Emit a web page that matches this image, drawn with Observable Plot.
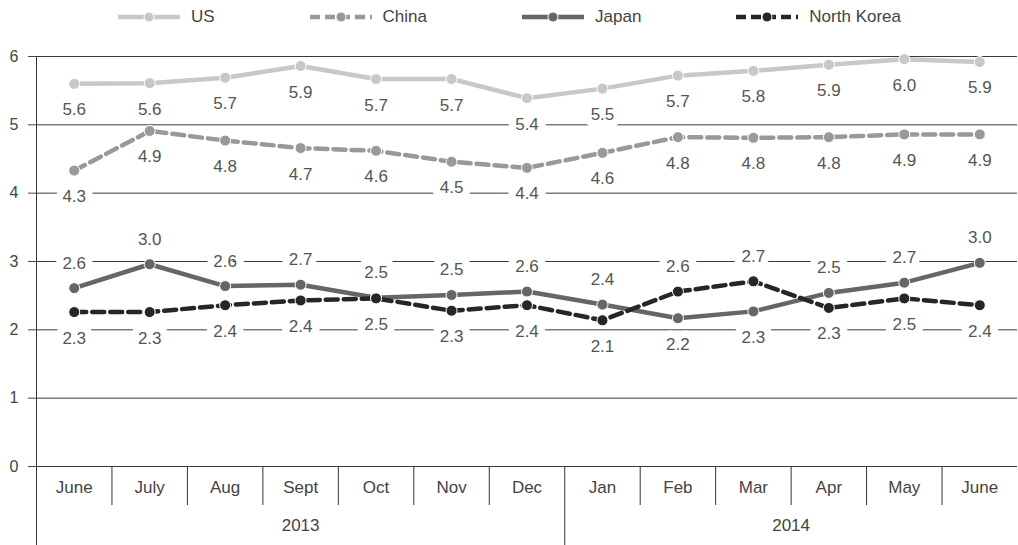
<!DOCTYPE html>
<html>
<head>
<meta charset="utf-8">
<script src="https://cdn.jsdelivr.net/npm/d3@7"></script>
<script src="https://cdn.jsdelivr.net/npm/@observablehq/plot@0.6"></script>
<style>
  html, body { margin: 0; padding: 0; background: #fff; }
  body { width: 1018px; height: 545px; overflow: hidden; font-family: "Liberation Sans", Arial, sans-serif; }
  #legend { height: 34px; display: flex; justify-content: center; align-items: center; gap: 94px; font-size: 17px; color: #444; }
  .item { display: flex; align-items: center; gap: 10px; }
  .item svg { display: block; }
</style>
</head>
<body>
<div id="legend"></div>
<div id="chart"></div>
<script>
// ---- data ----
const months = ["June","July","Aug","Sept","Oct","Nov","Dec","Jan","Feb","Mar","Apr","May","June"];
const years = ["2013","2014"];
const yearMonthCounts = [7, 6];
const seriesNames = ["US","China","Japan","North Korea"];
const us         = [5.60,5.61,5.69,5.86,5.67,5.67,5.39,5.53,5.72,5.79,5.88,5.96,5.92];
const china      = [4.33,4.91,4.77,4.66,4.62,4.46,4.37,4.59,4.82,4.81,4.82,4.86,4.86];
const japan      = [2.61,2.96,2.64,2.66,2.47,2.51,2.56,2.37,2.17,2.27,2.54,2.69,2.98];
const northKorea = [2.26,2.26,2.36,2.43,2.46,2.28,2.36,2.14,2.56,2.71,2.32,2.46,2.36];
const yTicks = [0,1,2,3,4,5,6];

// ---- styles ----
const styles = {
  "US":          {color: "#c8c8c8", dash: null},
  "China":       {color: "#999999", dash: "12,6"},
  "Japan":       {color: "#666666", dash: null},
  "North Korea": {color: "#262626", dash: "12,6"}
};
const seriesValues = {"US": us, "China": china, "Japan": japan, "North Korea": northKorea};

// ---- rows ----
const fmt = d3.format(".1f");
const rows = [];
for (const s of seriesNames) {
  seriesValues[s].forEach((v, i) => {
    let pos = "below";
    if (s === "Japan") pos = v >= northKorea[i] ? "above" : "below";
    if (s === "North Korea") pos = v > japan[i] ? "above" : "below";
    rows.push({series: s, i, month: months[i], value: v, label: fmt(v), pos});
  });
}

// ---- legend ----
const legend = document.getElementById("legend");
for (const s of seriesNames) {
  const st = styles[s];
  const item = document.createElement("div");
  item.className = "item";
  item.innerHTML = `<svg width="64" height="14"><line x1="1" x2="63" y1="7" y2="7" stroke="${st.color}" stroke-width="4.5" ${st.dash ? `stroke-dasharray="10,5"` : ""}/><circle cx="32" cy="7" r="5" fill="${st.color}" stroke="#fff" stroke-width="1"/></svg><span>${s}</span>`;
  legend.appendChild(item);
}

// ---- layout ----
const W = 1018, H = 511, mT = 22, mB = 79, mL = 36, mR = 1;
const frameH = H - mT - mB;

const yearBoundary = yearMonthCounts[0] - 0.5;
const monthBoundaries = d3.range(1, months.length).map(i => i - 0.5).filter(b => b !== yearBoundary);
const monthIdx = months.map((m, i) => ({i, m}));
let acc = 0;
const yearRows = years.map((y, k) => {
  const start = acc; acc += yearMonthCounts[k];
  return {year: y, center: (start + acc - 1) / 2};
});

const marks = [
  Plot.ruleY(yTicks, {y: d => d, stroke: "#3a3a3a", strokeWidth: 1}),
  Plot.axisY({ticks: yTicks, tickSize: 8, tickPadding: 10, fontSize: 16, color: "#444", tickFormat: d => d, label: null}),
  Plot.ruleX([-0.5], {x: d => d, stroke: "#333", insetBottom: -mB}),
  Plot.ruleX(monthBoundaries, {x: d => d, stroke: "#333", insetTop: frameH, insetBottom: -39}),
  Plot.ruleX([yearBoundary], {x: d => d, stroke: "#333", insetTop: frameH, insetBottom: -mB}),
  Plot.text(monthIdx, {x: "i", text: "m", frameAnchor: "bottom", dy: 26, fontSize: 17, fill: "#444"}),
  Plot.text(yearRows, {x: "center", text: "year", frameAnchor: "bottom", dy: 64, fontSize: 17, fill: "#444"})
];

for (const s of seriesNames) {
  const st = styles[s];
  const data = rows.filter(d => d.series === s);
  marks.push(Plot.line(data, {x: "i", y: "value", stroke: st.color, strokeWidth: 4.5, strokeDasharray: st.dash ?? undefined}));
}
for (const s of seriesNames) {
  const st = styles[s];
  const data = rows.filter(d => d.series === s);
  marks.push(Plot.dot(data, {x: "i", y: "value", fill: st.color, r: 5.5, stroke: "#fff", strokeWidth: 1}));
}
const labelStyle = {x: "i", y: "value", text: "label", fontSize: 17, fill: "#555", stroke: "#fff", strokeWidth: 15, strokeLinejoin: "round"};
marks.push(Plot.text(rows.filter(d => d.pos === "above"), {...labelStyle, dy: -25}));
marks.push(Plot.text(rows.filter(d => d.pos === "below"), {...labelStyle, dy: 26}));

const chart = Plot.plot({
  width: W, height: H,
  marginTop: mT, marginBottom: mB, marginLeft: mL, marginRight: mR,
  style: {fontFamily: "'Liberation Sans', Arial, sans-serif", background: "#fff", overflow: "visible"},
  x: {type: "linear", domain: [-0.5, months.length - 0.5], axis: null},
  y: {domain: [0, 6], axis: null},
  marks
});
document.getElementById("chart").appendChild(chart);
</script>
</body>
</html>
